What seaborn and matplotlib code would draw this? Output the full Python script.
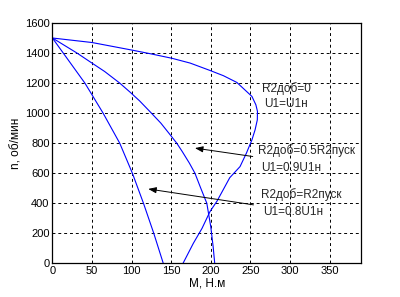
import matplotlib
matplotlib.use("Agg")
import matplotlib.pyplot as plt
import seaborn as sns
import pandas as pd

# Curve data (M, Н.м ; n, об/мин)
m_nat = [0, 50, 100, 123, 151, 174, 199, 216, 233, 243, 252, 257, 259, 258.8, 256, 252,
         245, 237, 224, 208, 199, 189, 178, 165]
n_nat = [1500, 1470, 1420, 1396, 1365, 1333, 1284, 1249, 1204, 1155, 1111, 1055, 1011, 955,
         889, 822, 733, 644, 570, 415, 344, 233, 133, 0]

m_half = [0, 31, 48, 66, 85, 98, 110, 125, 137, 147, 157, 164, 173, 180, 187, 195,
          200, 203, 205]
n_half = [1500, 1400, 1340, 1277, 1200, 1140, 1082, 1000, 933, 867, 800, 744, 667, 600,
          505, 400, 244, 111, 0]

m_full = [0, 41, 50, 64, 85, 101, 115, 128, 140]
n_full = [1500, 1200, 1122, 1000, 800, 600, 400, 200, 0]

curve_names = ["nat", "half", "full"]
x_ticks = [0, 50, 100, 150, 200, 250, 300, 350]
y_ticks = [0, 200, 400, 600, 800, 1000, 1200, 1400, 1600]

labels = [
    ("R2доб=0", "U1=U1н"),
    ("R2доб=0.5R2пуск", "U1=0.9U1н"),
    ("R2доб=R2пуск", "U1=0.8U1н"),
]

frames = []
for name, m, n in zip(curve_names, [m_nat, m_half, m_full], [n_nat, n_half, n_full]):
    frames.append(pd.DataFrame({"M": m, "n": n, "curve": name}))
df = pd.concat(frames, ignore_index=True)

sns.set_theme(style="white")
plt.rcParams["font.family"] = ["Liberation Sans", "DejaVu Sans"]

fig = plt.figure(figsize=(4.0, 2.97), dpi=100)
ax = fig.add_axes([0.131, 0.1135, 0.772, 0.8091])

sns.lineplot(data=df, x="M", y="n", hue="curve", units="curve", estimator=None,
             sort=False, palette=["#0000ff"] * 3, linewidth=0.8, legend=False, ax=ax)

ax.set_xlim(0, 390)
ax.set_ylim(0, 1600)
ax.set_xticks(x_ticks)
ax.set_yticks(y_ticks)
ax.tick_params(axis="both", labelsize=8, direction="in", length=3, color="black",
               pad=2, labelcolor="black")
ax.grid(True, color="black", linestyle=(0, (3, 3)), linewidth=0.7)
for s in ax.spines.values():
    s.set_color("black")
    s.set_linewidth(0.9)
ax.set_xlabel("M, Н.м", fontsize=8.5, color="black", labelpad=1)
ax.set_ylabel("n, об/мин", fontsize=8.5, color="black", labelpad=2)

# Text labels
fs = 8.5
ax.text(265, 1162, labels[0][0], fontsize=fs, va="center", ha="left")
ax.text(268, 1062, labels[0][1], fontsize=fs, va="center", ha="left")
ax.text(260, 749, labels[1][0], fontsize=fs, va="center", ha="left")
ax.text(263, 637, labels[1][1], fontsize=fs, va="center", ha="left")
ax.text(263, 455, labels[2][0], fontsize=fs, va="center", ha="left")
ax.text(266, 344, labels[2][1], fontsize=fs, va="center", ha="left")

arrow = dict(arrowstyle="-|>,head_length=0.4,head_width=0.15", color="black",
             lw=0.7, shrinkA=0, shrinkB=0)
ax.annotate("", xy=(180, 767), xytext=(253, 711), arrowprops=arrow)
ax.annotate("", xy=(121, 495), xytext=(254, 389), arrowprops=arrow)

fig.savefig("out.png", dpi=100)
